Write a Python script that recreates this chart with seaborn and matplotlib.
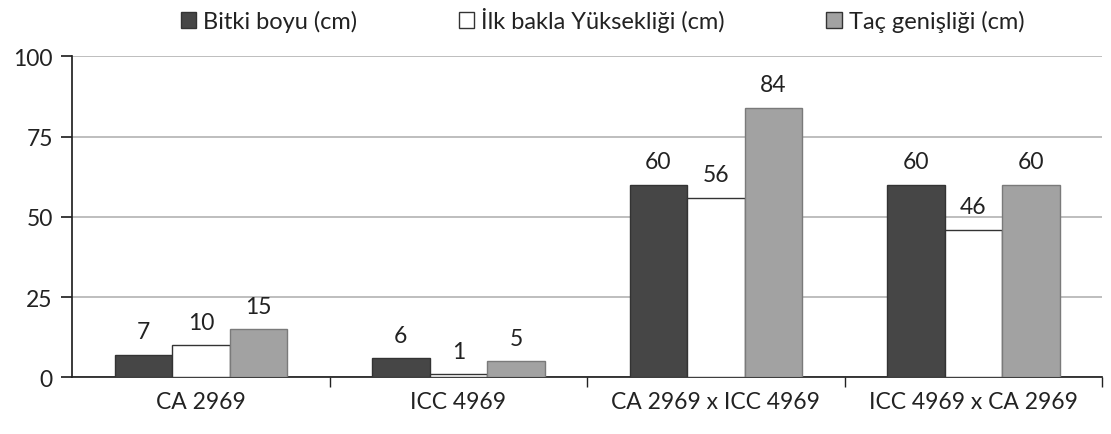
import matplotlib
matplotlib.use("Agg")
import matplotlib.pyplot as plt
import seaborn as sns
import pandas as pd
from matplotlib.ticker import FixedLocator

categories = ["CA 2969", "ICC 4969", "CA 2969 x ICC 4969", "ICC 4969 x CA 2969"]
series = ["Bitki boyu (cm)", "İlk bakla Yüksekliği (cm)", "Taç genişliği (cm)"]
bitki_boyu = [7, 6, 60, 60]
ilk_bakla = [10, 1, 56, 46]
tac_genisligi = [15, 5, 84, 60]
y_ticks = [0, 25, 50, 75, 100]

rows = []
for s, vals in zip(series, [bitki_boyu, ilk_bakla, tac_genisligi]):
    for c, v in zip(categories, vals):
        rows.append({"Kategori": c, "Seri": s, "Değer": v})
df = pd.DataFrame(rows)

sns.set_theme(style="white")
plt.rcParams["font.family"] = ["Lato", "DejaVu Sans"]

fig = plt.figure(figsize=(11.11, 4.35), dpi=100)
ax = fig.add_axes([0.065, 0.13, 0.927, 0.738])

palette = {series[0]: "#464646", series[1]: "#ffffff", series[2]: "#a2a2a2"}
sns.barplot(data=df, x="Kategori", y="Değer", hue="Seri", order=categories,
            hue_order=series, palette=palette, width=0.67, ax=ax,
            edgecolor="#333333", linewidth=1.0, saturation=1, legend=True, zorder=3)

# gray series edge slightly lighter as in the reference
for patch in ax.containers[2]:
    patch.set_edgecolor("#7a7a7a")

for cont in ax.containers:
    ax.bar_label(cont, padding=9, fontsize=16.5, color="#222222")

ax.set_ylim(0, 100)
ax.set_xlim(-0.5, 3.5)
ax.yaxis.set_major_locator(FixedLocator(y_ticks))
ax.yaxis.grid(True, color="#b3b3b3", linewidth=1.2, zorder=0)
ax.set_axisbelow(True)
ax.set_xlabel("")
ax.set_ylabel("")
for side in ["top", "right"]:
    ax.spines[side].set_visible(False)
ax.spines["left"].set_color("#222222")
ax.spines["bottom"].set_color("#222222")
ax.tick_params(axis="y", labelsize=16.5, length=8, color="#222222", left=True, pad=6, labelcolor="#222222")
ax.tick_params(axis="x", labelsize=16.5, length=0, pad=10, labelcolor="#222222")
# category boundary tick marks
ax.set_xticks([0.5, 1.5, 2.5, 3.5], minor=True)
ax.tick_params(axis="x", which="minor", length=7, color="#222222", bottom=True)

ax.legend(loc="center", bbox_to_anchor=(0.515, 1.115), ncol=3, frameon=False,
          fontsize=17, handlelength=0.65, handleheight=0.65, handletextpad=0.3,
          columnspacing=4.3, labelcolor="#222222", borderpad=0.1)

fig.savefig("out.png", dpi=100)
